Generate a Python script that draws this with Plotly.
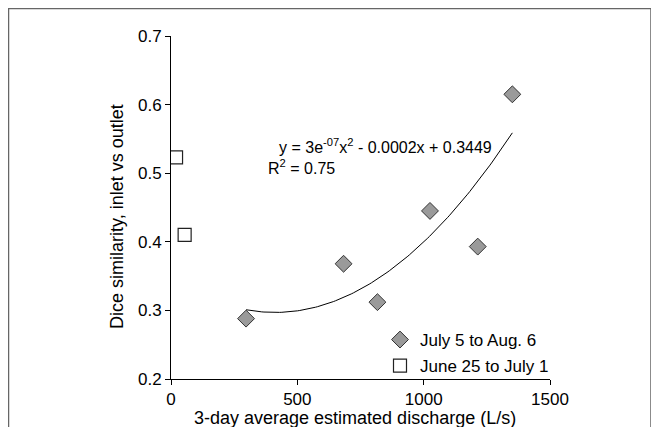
import numpy as np
import plotly.graph_objects as go

# Data
july_x = [297, 683, 817, 1025, 1214, 1351]
july_y = [0.288, 0.368, 0.312, 0.445, 0.393, 0.615]
june_x = [20, 54]
june_y = [0.523, 0.410]
july_name = "July 5 to Aug. 6"
june_name = "June 25 to July 1"
x_ticks = [0, 500, 1000, 1500]
y_ticks = [0.2, 0.3, 0.4, 0.5, 0.6, 0.7]
x_title = "3-day average estimated discharge (L/s)"
y_title = "Dice similarity, inlet vs outlet"
equation = "y = 3e<sup>-07</sup>x<sup>2</sup> - 0.0002x + 0.3449"
r2_text = "R<sup>2</sup> = 0.75"

# Quadratic trendline fitted to the July series
coef = np.polyfit(july_x, july_y, 2)
tx = np.linspace(min(july_x), max(july_x), 120)
ty = np.polyval(coef, tx)

FONT = "Liberation Sans, Arial, sans-serif"

# page has an 8px body margin; figure coordinates = page - 8
OFF = 8
W, H = 659 - OFF, 427 - OFF
L, R, T, B = 171 - OFF, 550 - OFF, 36 - OFF, 379 - OFF

def px2paperx(p):
    return (p - OFF - L) / (R - L)
def px2papery(p):
    return (B - (p - OFF)) / (B - T)

fig = go.Figure()
fig.add_trace(go.Scatter(x=tx, y=ty, mode="lines", line=dict(color="black", width=1),
                         showlegend=False, hoverinfo="skip"))
fig.add_trace(go.Scatter(x=july_x, y=july_y, mode="markers", name=july_name,
                         legendgroup="a",
                         marker=dict(symbol="diamond", size=13, color="#9a9a9a",
                                     line=dict(color="#333333", width=1))))
fig.add_trace(go.Scatter(x=june_x, y=june_y, mode="markers", name=june_name,
                         legendgroup="b",
                         marker=dict(symbol="square", size=13, color="white",
                                     line=dict(color="#222222", width=1.2))))

fig.add_annotation(x=419, y=0.5395, text=equation, showarrow=False, xanchor="left",
                   yanchor="middle", font=dict(family=FONT, size=16, color="black"))
fig.add_annotation(x=376, y=0.5095, text=r2_text, showarrow=False, xanchor="left",
                   yanchor="middle", font=dict(family=FONT, size=16, color="black"))

# axis titles
fig.add_annotation(xref="paper", yref="paper", x=px2paperx(355), y=px2papery(418),
                   text=x_title, showarrow=False, xanchor="center", yanchor="middle",
                   font=dict(family=FONT, size=18, color="black"))
fig.add_annotation(xref="paper", yref="paper", x=px2paperx(117), y=px2papery(217),
                   text=y_title, showarrow=False, xanchor="center", yanchor="middle",
                   textangle=-90, font=dict(family=FONT, size=18, color="black"))

# outer frame
fig.add_shape(type="rect", xref="paper", yref="paper",
              x0=px2paperx(8.5), x1=px2paperx(651), y0=px2papery(445), y1=px2papery(8.5),
              line=dict(color="#666666", width=1.5), fillcolor="rgba(0,0,0,0)", layer="below")

fig.update_layout(
    width=W, height=H,
    margin=dict(l=L, r=W - R, t=T, b=H - B),
    paper_bgcolor="white", plot_bgcolor="white",
    font=dict(family=FONT, color="black"),
    xaxis=dict(range=[0, 1500], tickvals=x_ticks, ticks="outside", ticklen=5,
               tickcolor="black", showline=True, linecolor="black", linewidth=1,
               showgrid=False, zeroline=False, tickfont=dict(size=17), automargin=False),
    yaxis=dict(range=[0.2, 0.7], tickvals=y_ticks, tickformat=".1f", ticks="outside",
               ticklen=5, tickcolor="black", showline=True, linecolor="black",
               linewidth=1, showgrid=False, zeroline=False, tickfont=dict(size=17),
               automargin=False),
    legend=dict(x=px2paperx(380), y=px2papery(322), xanchor="left", yanchor="top",
                font=dict(size=17), bgcolor="rgba(0,0,0,0)",
                traceorder="grouped", tracegroupgap=1, itemwidth=30),
)

fig.write_html("out.html")
